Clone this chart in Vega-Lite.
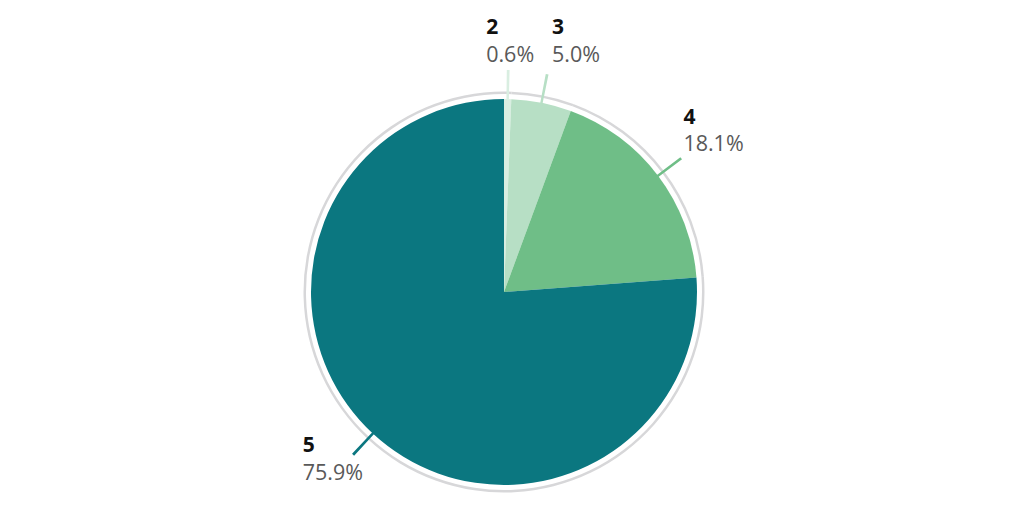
{
  "$schema": "https://vega.github.io/schema/vega-lite/v6.json",
  "width": 400,
  "height": 400,
  "autosize": {"type": "none"},
  "padding": {"left": 304, "top": 92, "right": 320, "bottom": 17},
  "background": "white",
  "view": {"stroke": null},
  "config": {"font": "Open Sans"},
  "data": {"values": [
    {"cat": "2", "pct": 0.6, "label": "0.6%"},
    {"cat": "3", "pct": 5.0, "label": "5.0%"},
    {"cat": "4", "pct": 18.1, "label": "18.1%"},
    {"cat": "5", "pct": 75.9, "label": "75.9%"}
  ]},
  "transform": [
    {"stack": "pct", "groupby": [], "sort": [{"field": "cat", "order": "ascending"}], "as": ["s0", "s1"]},
    {"calculate": "(datum.s0 + datum.s1) / 2", "as": "mid"},
    {"calculate": "datum.mid - 0.1", "as": "lo"},
    {"calculate": "datum.mid + 0.1", "as": "hi"}
  ],
  "layer": [
    {
      "mark": {"type": "arc", "innerRadius": 198, "outerRadius": 200.5, "color": "#d7d7d9"},
      "encoding": {
        "theta": {"field": "s0", "type": "quantitative", "scale": {"domain": [0, 99.6]}},
        "theta2": {"field": "s1"}
      }
    },
    {
      "mark": {"type": "arc", "outerRadius": 193},
      "encoding": {
        "theta": {"field": "s0", "type": "quantitative", "scale": {"domain": [0, 99.6]}},
        "theta2": {"field": "s1"},
        "color": {"field": "cat", "type": "nominal", "legend": null,
          "scale": {"domain": ["2", "3", "4", "5"], "range": ["#d9eee1", "#b7dfc5", "#6fbe87", "#0b7780"]}}
      }
    },
    {
      "mark": {"type": "arc", "innerRadius": 190, "outerRadius": 222},
      "encoding": {
        "theta": {"field": "lo", "type": "quantitative", "scale": {"domain": [0, 99.6]}},
        "theta2": {"field": "hi"},
        "color": {"field": "cat", "type": "nominal", "legend": null}
      }
    },
    {
      "transform": [{"filter": "datum.cat == '2'"}],
      "encoding": {"theta": {"field": "mid", "type": "quantitative", "stack": null, "scale": {"domain": [0, 99.6]}}},
      "layer": [
        {"mark": {"type": "text", "radius": 221, "align": "left", "baseline": "middle", "dx": -22, "dy": -43, "fontSize": 21, "fontWeight": "bold", "color": "#111111"},
         "encoding": {"text": {"field": "cat"}}},
        {"mark": {"type": "text", "radius": 221, "align": "left", "baseline": "middle", "dx": -22, "dy": -15, "fontSize": 21.5, "color": "#595959"},
         "encoding": {"text": {"field": "label"}}}
      ]
    },
    {
      "transform": [{"filter": "datum.cat == '3'"}],
      "encoding": {"theta": {"field": "mid", "type": "quantitative", "stack": null, "scale": {"domain": [0, 99.6]}}},
      "layer": [
        {"mark": {"type": "text", "radius": 221, "align": "left", "baseline": "middle", "dx": 5, "dy": -47, "fontSize": 21, "fontWeight": "bold", "color": "#111111"},
         "encoding": {"text": {"field": "cat"}}},
        {"mark": {"type": "text", "radius": 221, "align": "left", "baseline": "middle", "dx": 5, "dy": -19, "fontSize": 21.5, "color": "#595959"},
         "encoding": {"text": {"field": "label"}}}
      ]
    },
    {
      "transform": [{"filter": "datum.cat == '4'"}],
      "encoding": {"theta": {"field": "mid", "type": "quantitative", "stack": null, "scale": {"domain": [0, 99.6]}}},
      "layer": [
        {"mark": {"type": "text", "radius": 221, "align": "left", "baseline": "middle", "dx": 3, "dy": -41, "fontSize": 21, "fontWeight": "bold", "color": "#111111"},
         "encoding": {"text": {"field": "cat"}}},
        {"mark": {"type": "text", "radius": 221, "align": "left", "baseline": "middle", "dx": 3, "dy": -14, "fontSize": 21.5, "color": "#595959"},
         "encoding": {"text": {"field": "label"}}}
      ]
    },
    {
      "transform": [{"filter": "datum.cat == '5'"}],
      "encoding": {"theta": {"field": "mid", "type": "quantitative", "stack": null, "scale": {"domain": [0, 99.6]}}},
      "layer": [
        {"mark": {"type": "text", "radius": 221, "align": "left", "baseline": "middle", "dx": -51, "dy": -8, "fontSize": 21, "fontWeight": "bold", "color": "#111111"},
         "encoding": {"text": {"field": "cat"}}},
        {"mark": {"type": "text", "radius": 221, "align": "left", "baseline": "middle", "dx": -51, "dy": 20, "fontSize": 21.5, "color": "#595959"},
         "encoding": {"text": {"field": "label"}}}
      ]
    }
  ]
}
